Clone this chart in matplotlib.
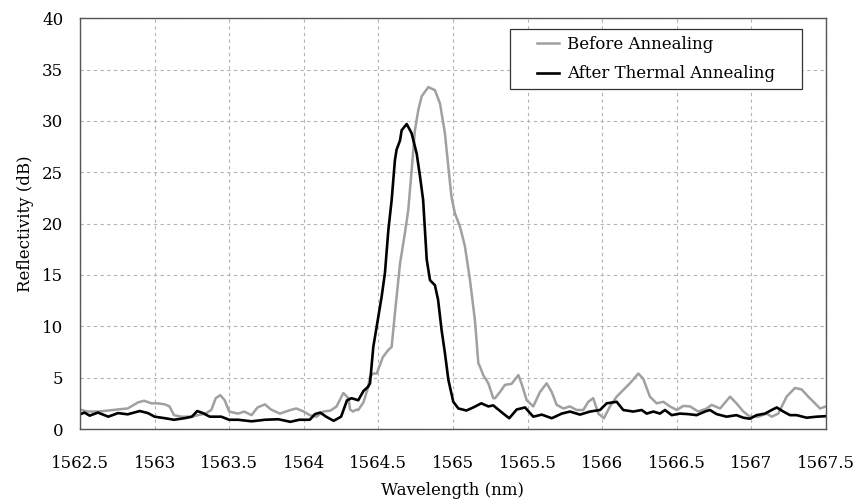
import numpy as np
from matplotlib import pyplot as plt
from matplotlib.patches import Rectangle

# spectra (wavelength in nm, reflectivity in dB)
before_wl = [1562.50, 1562.55, 1562.62, 1562.69, 1562.75, 1562.82, 1562.89, 1562.93, 1562.98, 1563.02,
             1563.07, 1563.10, 1563.13, 1563.18, 1563.25, 1563.29, 1563.34, 1563.38, 1563.41, 1563.44,
             1563.47, 1563.50, 1563.56, 1563.60, 1563.65, 1563.69, 1563.74, 1563.78, 1563.84, 1563.91,
             1563.95, 1564.00, 1564.04, 1564.086, 1564.13, 1564.18, 1564.22, 1564.265, 1564.30, 1564.31,
             1564.33, 1564.355, 1564.365, 1564.40, 1564.43, 1564.444, 1564.465, 1564.489, 1564.53, 1564.567,
             1564.589, 1564.611, 1564.645, 1564.678, 1564.70, 1564.723, 1564.745, 1564.768, 1564.79, 1564.835,
             1564.879, 1564.913, 1564.946, 1564.969, 1564.99, 1565.013, 1565.047, 1565.08, 1565.114, 1565.147,
             1565.17, 1565.18, 1565.203, 1565.237, 1565.27, 1565.282, 1565.315, 1565.348, 1565.393, 1565.438,
             1565.46, 1565.494, 1565.538, 1565.583, 1565.628, 1565.662, 1565.695, 1565.74, 1565.784, 1565.829,
             1565.873, 1565.907, 1565.94, 1565.974, 1566.012, 1566.052, 1566.097, 1566.141, 1566.186, 1566.242,
             1566.275, 1566.32, 1566.365, 1566.41, 1566.454, 1566.50, 1566.544, 1566.589, 1566.644, 1566.70,
             1566.734, 1566.79, 1566.857, 1566.90, 1566.946, 1566.99, 1567.046, 1567.102, 1567.136, 1567.18,
             1567.236, 1567.292, 1567.337, 1567.381, 1567.426, 1567.46, 1567.50]
before_db = [1.9, 1.7, 1.7, 1.8, 1.9, 2.0, 2.6, 2.75, 2.5, 2.5,
             2.4, 2.2, 1.35, 1.2, 1.2, 1.35, 1.5, 1.85, 3.0, 3.3,
             2.8, 1.7, 1.5, 1.7, 1.35, 2.1, 2.4, 1.9, 1.5, 1.85,
             2.0, 1.7, 1.35, 1.2, 1.7, 1.8, 2.2, 3.5, 3.0, 1.9,
             1.7, 1.9, 1.85, 2.6, 4.0, 5.1, 5.4, 5.4, 7.0, 7.7,
             8.0, 11.3, 16.1, 19.1, 21.3, 25.2, 29.1, 31.1, 32.4, 33.3,
             33.0, 31.7, 28.8, 25.5, 22.6, 21.0, 19.7, 17.8, 14.5, 10.6,
             6.4, 6.1, 5.25, 4.45, 3.0, 3.0, 3.6, 4.3, 4.4, 5.25,
             4.4, 2.8, 2.2, 3.6, 4.45, 3.6, 2.35, 2.0, 2.2, 1.85,
             1.85, 2.65, 3.0, 1.5, 1.05, 2.2, 3.15, 3.8, 4.45, 5.4,
             4.9, 3.15, 2.5, 2.65, 2.2, 1.85, 2.25, 2.2, 1.7, 2.0,
             2.35, 2.0, 3.15, 2.5, 1.7, 1.2, 1.2, 1.5, 1.2, 1.5,
             3.15, 4.0, 3.85, 3.15, 2.5, 2.0, 2.2]

after_wl = [1562.50, 1562.53, 1562.565, 1562.62, 1562.69, 1562.755, 1562.82, 1562.90, 1562.956, 1563.00,
            1563.07, 1563.13, 1563.20, 1563.25, 1563.286, 1563.324, 1563.37, 1563.447, 1563.50, 1563.56,
            1563.65, 1563.74, 1563.83, 1563.91, 1563.97, 1564.04, 1564.075, 1564.11, 1564.15, 1564.20,
            1564.25, 1564.29, 1564.32, 1564.365, 1564.40, 1564.43, 1564.444, 1564.466, 1564.489, 1564.522,
            1564.544, 1564.567, 1564.589, 1564.611, 1564.622, 1564.645, 1564.656, 1564.69, 1564.723, 1564.757,
            1564.779, 1564.80, 1564.824, 1564.846, 1564.879, 1564.90, 1564.924, 1564.946, 1564.969, 1565.002,
            1565.036, 1565.09, 1565.136, 1565.19, 1565.237, 1565.27, 1565.337, 1565.377, 1565.427, 1565.483,
            1565.538, 1565.595, 1565.662, 1565.729, 1565.784, 1565.851, 1565.918, 1565.985, 1566.03, 1566.097,
            1566.141, 1566.208, 1566.265, 1566.298, 1566.343, 1566.387, 1566.421, 1566.466, 1566.521, 1566.577,
            1566.633, 1566.689, 1566.722, 1566.767, 1566.834, 1566.90, 1566.946, 1566.99, 1567.035, 1567.091,
            1567.136, 1567.17, 1567.214, 1567.259, 1567.303, 1567.37, 1567.437, 1567.50]
after_db = [1.43, 1.6, 1.3, 1.6, 1.2, 1.55, 1.43, 1.75, 1.55, 1.2,
            1.05, 0.9, 1.05, 1.2, 1.75, 1.55, 1.2, 1.2, 0.9, 0.9,
            0.75, 0.9, 0.95, 0.7, 0.9, 0.9, 1.45, 1.6, 1.2, 0.8,
            1.2, 2.8, 3.0, 2.8, 3.7, 4.1, 4.45, 8.0, 10.0, 12.9,
            15.2, 19.4, 22.3, 26.2, 27.2, 28.1, 29.1, 29.7, 28.8, 26.8,
            24.6, 22.3, 16.5, 14.5, 14.0, 12.6, 9.6, 7.4, 4.8, 2.65,
            2.0, 1.8, 2.1, 2.5, 2.2, 2.3, 1.5, 1.05, 1.9, 2.1,
            1.2, 1.4, 1.05, 1.5, 1.7, 1.4, 1.7, 1.85, 2.5, 2.65,
            1.85, 1.7, 1.85, 1.5, 1.7, 1.5, 1.85, 1.35, 1.5, 1.45,
            1.35, 1.7, 1.85, 1.45, 1.2, 1.35, 1.1, 1.0, 1.35, 1.5,
            1.85, 2.1, 1.7, 1.35, 1.35, 1.1, 1.2, 1.25]

x_ticks = [1562.5, 1563, 1563.5, 1564, 1564.5, 1565, 1565.5, 1566, 1566.5, 1567, 1567.5]
x_labels = ["1562.5", "1563", "1563.5", "1564", "1564.5", "1565",
            "1565.5", "1566", "1566.5", "1567", "1567.5"]
y_ticks = np.arange(0, 41, 5)

plt.rcParams['font.family'] = 'DejaVu Serif'
plt.rcParams['font.size'] = 12

fig = plt.figure(figsize=(8.58, 5.04), dpi=100)
ax = fig.add_axes([0.0932, 0.1488, 0.8695, 0.8149])

ax.plot(before_wl, before_db, color='#a0a0a0', lw=1.8, label='Before Annealing')
ax.plot(after_wl, after_db, color='black', lw=1.9, label='After Thermal Annealing')

ax.set_xlim(1562.5, 1567.5)
ax.set_ylim(0, 40)
ax.set_xticks(x_ticks)
ax.set_xticklabels(x_labels)
ax.set_yticks(y_ticks)
ax.tick_params(length=0, labelsize=12)
ax.tick_params(axis='x', pad=19)
ax.tick_params(axis='y', pad=12)
ax.grid(True, color='#b4b4b4', linestyle=(0, (3, 3)), linewidth=0.8)
ax.set_axisbelow(True)
for s in ax.spines.values():
    s.set_color('#555555')
    s.set_linewidth(1.0)

ax.set_xlabel("Wavelength (nm)", fontsize=12, labelpad=7)
ax.set_ylabel("Reflectivity (dB)", fontsize=12, labelpad=6)

# legend box drawn separately: the original has wide side padding
box = Rectangle((0.5764, 0.828), 0.3914, 0.146, transform=ax.transAxes,
                facecolor='white', edgecolor='#333333', lw=0.9, zorder=4)
ax.add_patch(box)
leg = ax.legend(loc='upper left', bbox_to_anchor=(0.6126, 0.957), borderaxespad=0,
                frameon=False, fontsize=12, borderpad=0,
                handlelength=1.3, handletextpad=0.5, labelspacing=0.75)
leg.set_zorder(5)

fig.savefig("out.png", dpi=100)
